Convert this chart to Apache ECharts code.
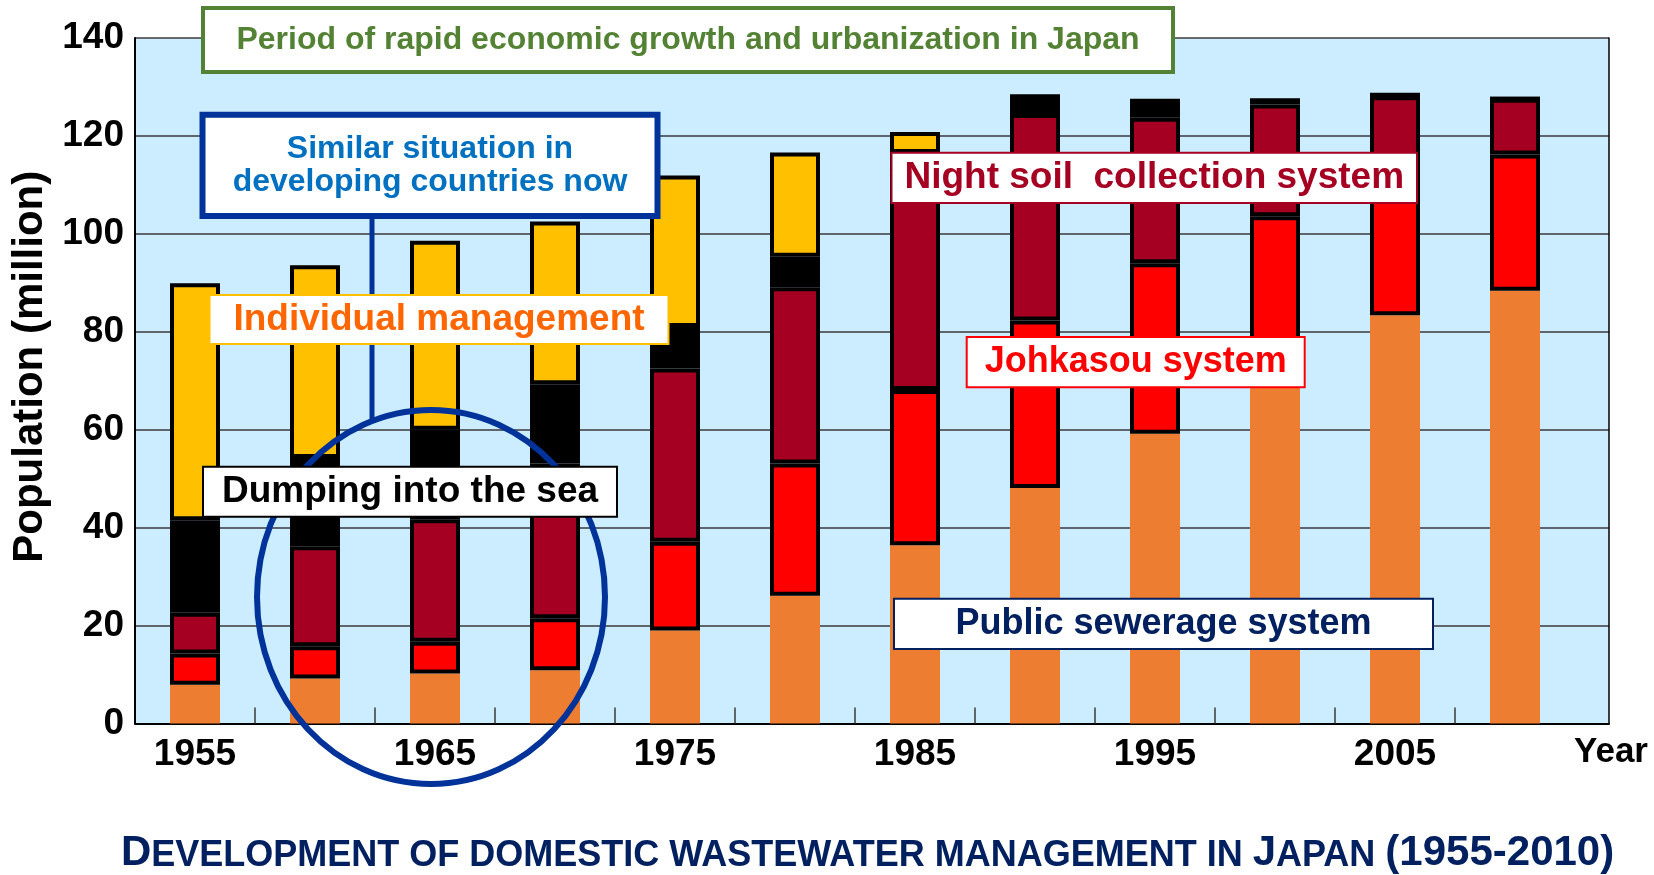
<!DOCTYPE html>
<html>
<head>
<meta charset="utf-8">
<script src="https://cdn.jsdelivr.net/npm/echarts@6/dist/echarts.min.js"></script>
<style>
html,body{margin:0;padding:0;background:#fff;}
#chart{width:1654px;height:875px;}
</style>
</head>
<body>
<div id="chart"></div>
<script>
// ---- data (million people) ----
const years = ['1955','1960','1965','1970','1975','1980','1985','1990','1995','2000','2005','2010'];
const sewerage   = [7.9, 9.2, 10.2, 10.9, 19.0, 26.1, 36.4, 48.1, 59.2, 74.0, 83.4, 88.4];
const johkasou   = [6.4, 6.6, 6.5, 10.6, 18.1, 27.0, 31.7, 34.2, 34.8, 29.6, 28.6, 27.8];
const nightSoil  = [8.3, 20.4, 25.0, 31.6, 35.4, 36.0, 44.5, 42.2, 29.7, 22.8, 16.1, 11.4];
const dumping    = [18.9, 18.0, 18.3, 16.2, 8.5, 6.2, 3.9, 3.6, 3.5, 0.9, 0.3, 0];
const individual = [48.4, 39.4, 38.6, 33.2, 30.9, 21.3, 4.3, 0, 0, 0, 0, 0];
const yMin = 0, yMax = 140, yStep = 20;
// tick marks sit between the year bands (band index boundaries 1..11)
const bandTicks = [1, 2, 3, 4, 5, 6, 7, 8, 9, 10, 11];

const FONT = '"Liberation Sans", Arial, sans-serif';
const chart = echarts.init(document.getElementById('chart'), null, {renderer: 'canvas'});

function barSeries(name, data, color, bordered) {
  return {
    name: name, type: 'bar', stack: 'total', data: data,
    xAxisIndex: 0, yAxisIndex: 0,
    barWidth: 50, silent: true,
    emphasis: {disabled: true},
    itemStyle: bordered ? {color: color, borderColor: '#000', borderWidth: 4} : {color: color, borderWidth: 0}
  };
}

function box(x, y, w, h, stroke, lw, text, color, size, lineHeight) {
  return [
    {type: 'rect', z: 60, shape: {x: x, y: y, width: w, height: h},
     style: {fill: '#ffffff', stroke: stroke, lineWidth: lw}},
    {type: 'text', z: 61, x: x + w / 2, y: y + h / 2,
     style: {text: text, fill: color, font: 'bold ' + size + 'px ' + FONT,
             align: 'center', verticalAlign: 'middle', lineHeight: lineHeight || size}}
  ];
}

const gridLine = {show: true, lineStyle: {color: '#3a3a3a', width: 1.5}};

const option = {
  animation: false,
  backgroundColor: '#ffffff',
  title: {
    text: '{b|D}{s|EVELOPMENT OF DOMESTIC WASTEWATER MANAGEMENT IN }{b|J}{s|APAN }{b|(1955-2010)}',
    left: 121, top: 826, padding: 0,
    textStyle: {
      rich: {
        b: {fontSize: 42, fontWeight: 'bold', color: '#002060', fontFamily: FONT, verticalAlign: 'bottom', lineHeight: 48},
        s: {fontSize: 36, fontWeight: 'bold', color: '#002060', fontFamily: FONT, verticalAlign: 'bottom', lineHeight: 48}
      }
    }
  },
  grid: [
    {left: 135, top: 38, width: 1440, height: 685.5, show: true, backgroundColor: '#CCECFF', borderWidth: 0},
    {left: 1575, top: 38, width: 34, height: 685.5, show: true, backgroundColor: '#CCECFF', borderWidth: 0}
  ],
  xAxis: [
    {
      type: 'category', gridIndex: 0, data: years, boundaryGap: true, position: 'bottom',
      axisLine: {show: true, onZero: false, lineStyle: {color: '#000', width: 2}},
      axisTick: {show: false},
      axisLabel: {interval: 1, margin: 13, color: '#000', fontSize: 37, fontWeight: 'bold', fontFamily: FONT},
      splitLine: {show: false}
    },
    {
      type: 'category', gridIndex: 1, data: [''], boundaryGap: true, position: 'bottom',
      axisLine: {show: true, onZero: false, lineStyle: {color: '#000', width: 2}},
      axisTick: {show: false}, axisLabel: {show: false}, splitLine: {show: false},
      name: 'Year', nameLocation: 'end', nameGap: -35,
      nameTextStyle: {color: '#000', fontSize: 35, fontWeight: 'bold', fontFamily: FONT,
                      verticalAlign: 'top', lineHeight: 58}
    },
    {
      type: 'value', gridIndex: 0, min: 0, max: years.length, interval: 1, position: 'bottom',
      axisLine: {show: false, onZero: false},
      axisTick: {show: true, inside: true, length: 16, customValues: bandTicks,
                 lineStyle: {color: '#3a3a3a', width: 1.5}},
      axisLabel: {show: false}, splitLine: {show: false}
    }
  ],
  yAxis: [
    {
      type: 'value', gridIndex: 0, min: yMin, max: yMax, interval: yStep,
      axisLine: {show: true, onZero: false, lineStyle: {color: '#000', width: 2}},
      axisTick: {show: false},
      axisLabel: {margin: 11, color: '#000', fontSize: 37, fontWeight: 'bold', fontFamily: FONT},
      splitLine: gridLine,
      name: 'Population (million)', nameLocation: 'middle', nameGap: 79,
      nameTextStyle: {color: '#000', fontSize: 42, fontWeight: 'bold', fontFamily: FONT, padding: [0, 0, 0, 28]}
    },
    {
      type: 'value', gridIndex: 1, min: yMin, max: yMax, interval: yStep, position: 'right',
      axisLine: {show: true, onZero: false, lineStyle: {color: '#000', width: 1.5}},
      axisTick: {show: false}, axisLabel: {show: false},
      splitLine: gridLine
    }
  ],
  series: [
    barSeries('Public sewerage system', sewerage, '#ED7D31', false),
    barSeries('Johkasou system', johkasou, '#FF0000', true),
    barSeries('Night soil collection system', nightSoil, '#A50021', true),
    barSeries('Dumping into the sea', dumping, '#000000', true),
    barSeries('Individual management', individual, '#FFC000', true)
  ],
  graphic: {
    elements: [
      {type: 'ellipse', z: 50, shape: {cx: 431, cy: 597, rx: 174, ry: 187},
       style: {fill: 'none', stroke: '#003399', lineWidth: 6}},
      {type: 'line', z: 50, shape: {x1: 372, y1: 216, x2: 372, y2: 421},
       style: {stroke: '#003399', lineWidth: 5}}
    ].concat(
      box(203, 8, 970, 64, '#548235', 4, 'Period of rapid economic growth and urbanization in Japan', '#548235', 32),
      box(202.5, 114.7, 455, 101.3, '#003399', 6, 'Similar situation in\ndeveloping countries now', '#0070C0', 32, 33),
      box(209.5, 295, 459, 49, '#FFC000', 2, 'Individual management', '#FF6600', 37),
      box(203, 466.7, 414, 50, '#000000', 2, 'Dumping into the sea', '#000000', 37),
      box(891.5, 152.7, 525.5, 50.3, '#A50021', 2, 'Night soil  collection system', '#A50021', 37),
      box(966.7, 337, 338, 50.3, '#FF0000', 2, 'Johkasou system', '#FF0000', 36),
      box(894, 598.7, 539, 50.3, '#002060', 2, 'Public sewerage system', '#002060', 36)
    )
  }
};
chart.setOption(option);
</script>
</body>
</html>
